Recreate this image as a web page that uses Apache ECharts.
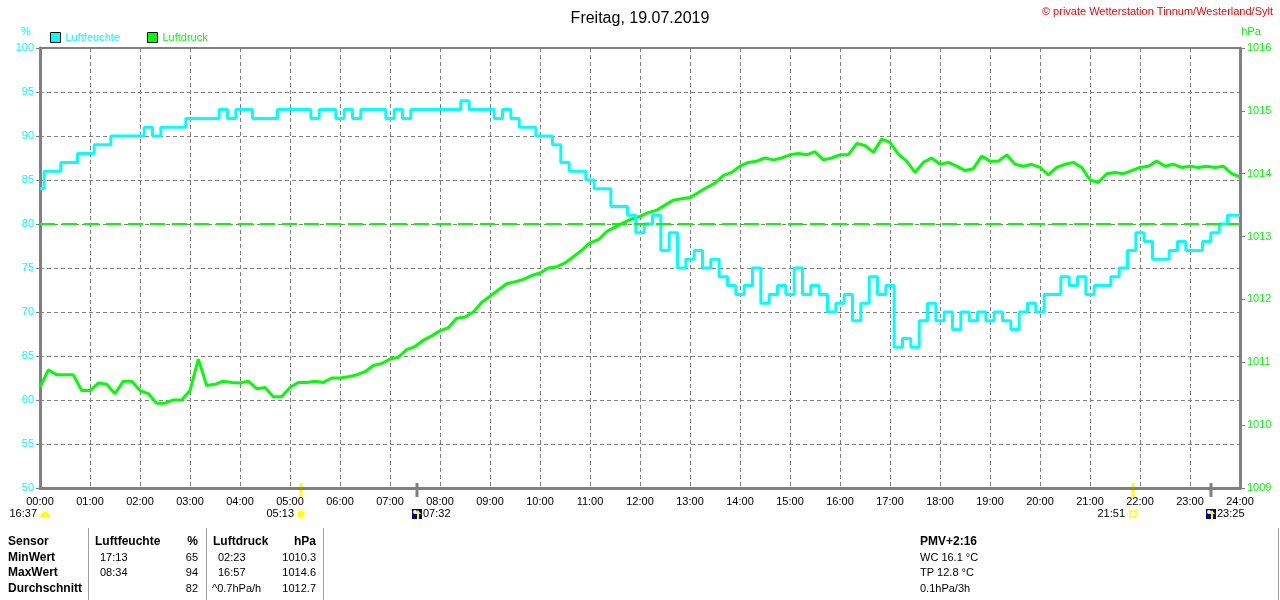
<!DOCTYPE html>
<html>
<head>
<meta charset="utf-8">
<script src="https://cdn.jsdelivr.net/npm/echarts@6/dist/echarts.min.js"></script>
<style>
html,body{margin:0;padding:0;background:#fff;}
#chart{width:1280px;height:600px;}
</style>
</head>
<body>
<div id="chart"></div>
<script>
// 10 minute readings, 00:00 .. 24:00
var times = [
  '00:00','00:10','00:20','00:30','00:40','00:50',
  '01:00','01:10','01:20','01:30','01:40','01:50',
  '02:00','02:10','02:20','02:30','02:40','02:50',
  '03:00','03:10','03:20','03:30','03:40','03:50',
  '04:00','04:10','04:20','04:30','04:40','04:50',
  '05:00','05:10','05:20','05:30','05:40','05:50',
  '06:00','06:10','06:20','06:30','06:40','06:50',
  '07:00','07:10','07:20','07:30','07:40','07:50',
  '08:00','08:10','08:20','08:30','08:40','08:50',
  '09:00','09:10','09:20','09:30','09:40','09:50',
  '10:00','10:10','10:20','10:30','10:40','10:50',
  '11:00','11:10','11:20','11:30','11:40','11:50',
  '12:00','12:10','12:20','12:30','12:40','12:50',
  '13:00','13:10','13:20','13:30','13:40','13:50',
  '14:00','14:10','14:20','14:30','14:40','14:50',
  '15:00','15:10','15:20','15:30','15:40','15:50',
  '16:00','16:10','16:20','16:30','16:40','16:50',
  '17:00','17:10','17:20','17:30','17:40','17:50',
  '18:00','18:10','18:20','18:30','18:40','18:50',
  '19:00','19:10','19:20','19:30','19:40','19:50',
  '20:00','20:10','20:20','20:30','20:40','20:50',
  '21:00','21:10','21:20','21:30','21:40','21:50',
  '22:00','22:10','22:20','22:30','22:40','22:50',
  '23:00','23:10','23:20','23:30','23:40','23:50',
  '24:00'
];

// Luftfeuchte in %
var humidity = [
  84,86,86,87,87,88,
  88,89,89,90,90,90,
  90,91,90,91,91,91,
  92,92,92,92,93,92,
  93,93,92,92,92,93,
  93,93,93,92,93,93,
  92,93,92,93,93,93,
  92,93,92,93,93,93,
  93,93,93,94,93,93,
  93,92,93,92,91,91,
  90,90,89,87,86,86,
  85,84,84,82,82,81,
  79,80,81,77,79,75,
  76,77,75,76,74,73,
  72,73,75,71,72,73,
  72,75,72,73,72,70,
  71,72,69,71,74,72,
  73,66,67,66,69,71,
  69,70,68,70,69,70,
  69,70,69,68,70,71,
  70,72,72,74,73,74,
  72,73,73,74,75,77,
  79,78,76,76,77,78,
  77,77,78,79,80,81,
  81
];

// Luftdruck in hPa
var pressure = [
  1010.6,1010.88,1010.8,1010.8,1010.8,1010.55,
  1010.55,1010.67,1010.65,1010.5,1010.7,1010.7,
  1010.55,1010.5,1010.35,1010.35,1010.4,1010.4,
  1010.55,1011.05,1010.63,1010.65,1010.7,1010.68,
  1010.67,1010.7,1010.58,1010.6,1010.45,1010.45,
  1010.6,1010.68,1010.68,1010.7,1010.68,1010.75,
  1010.75,1010.77,1010.8,1010.85,1010.95,1010.98,
  1011.05,1011.08,1011.2,1011.25,1011.35,1011.42,
  1011.5,1011.55,1011.7,1011.72,1011.8,1011.95,
  1012.05,1012.15,1012.25,1012.28,1012.32,1012.38,
  1012.42,1012.5,1012.52,1012.58,1012.68,1012.78,
  1012.9,1012.95,1013.08,1013.15,1013.22,1013.28,
  1013.32,1013.38,1013.42,1013.5,1013.58,1013.6,
  1013.62,1013.7,1013.78,1013.85,1013.97,1014.02,
  1014.12,1014.18,1014.2,1014.25,1014.22,1014.25,
  1014.3,1014.32,1014.3,1014.35,1014.22,1014.25,
  1014.3,1014.3,1014.48,1014.45,1014.34,1014.55,
  1014.5,1014.31,1014.2,1014.02,1014.18,1014.25,
  1014.15,1014.18,1014.12,1014.05,1014.08,1014.28,
  1014.2,1014.2,1014.3,1014.15,1014.12,1014.15,
  1014.1,1013.98,1014.1,1014.15,1014.18,1014.1,
  1013.9,1013.86,1014.0,1014.02,1014.0,1014.05,
  1014.1,1014.12,1014.2,1014.12,1014.15,1014.1,
  1014.12,1014.1,1014.12,1014.1,1014.12,1014.0,
  1013.95
];

var limitHumidity = 80;

// sun / moon times under the axis
var events = [
  {time: '05:13', kind: 'sunrise'},
  {time: '07:32', kind: 'moonrise'},
  {time: '21:51', kind: 'sunset'},
  {time: '23:25', kind: 'moonset'}
];
var dayLength = '16:37';

var tableHead = ['Sensor', 'Luftfeuchte', '%', 'Luftdruck', 'hPa'];
var tableRows = [
  ['MinWert', '17:13', '65', '02:23', '1010.3'],
  ['MaxWert', '08:34', '94', '16:57', '1014.6'],
  ['Durchschnitt', '', '82', '^0.7hPa/h', '1012.7']
];
var extraHead = 'PMV+2:16';
var extraRows = ['WC 16.1 °C', 'TP 12.8 °C', '0.1hPa/3h'];

var cyan = '#00ffff';
var green = '#00ff00';
var gray = '#808080';
var font = '"Liberation Sans", Arial, sans-serif';

var chart = echarts.init(document.getElementById('chart'));

chart.setOption({
  animation: false,
  backgroundColor: '#fff',
  title: {
    text: 'Freitag, 19.07.2019',
    left: 'center',
    top: 6,
    textStyle: {fontSize: 16, fontWeight: 'normal', color: '#000', fontFamily: font}
  },
  legend: {
    left: 50,
    top: 32,
    padding: 0,
    icon: 'rect',
    itemWidth: 10,
    itemHeight: 10,
    itemGap: 27,
    itemStyle: {borderColor: '#000', borderWidth: 1},
    textStyle: {fontSize: 11, fontFamily: font},
    data: [
      {name: 'Luftfeuchte', textStyle: {color: cyan}},
      {name: 'Luftdruck', textStyle: {color: green}}
    ]
  },
  grid: {
    left: 40, right: 40, top: 48, bottom: 112,
    show: true, borderColor: gray, borderWidth: 2
  },
  xAxis: [
    {
      type: 'category',
      data: times,
      boundaryGap: false,
      axisLine: {lineStyle: {color: gray, width: 3}},
      axisTick: {show: false},
      axisLabel: {interval: 5, color: '#000', fontSize: 11, fontFamily: font, margin: 8},
      splitLine: {show: true, interval: 5, lineStyle: {color: gray, type: [4, 3], width: 1}}
    },
    {type: 'value', min: 0, max: 1440, show: false}
  ],
  yAxis: [
    {
      type: 'value', min: 50, max: 100, interval: 5, position: 'left',
      axisLine: {show: true, lineStyle: {color: gray, width: 3}},
      axisTick: {show: true, length: 4, lineStyle: {color: gray}},
      axisLabel: {color: cyan, fontSize: 11, fontFamily: font, margin: 6},
      splitLine: {show: true, lineStyle: {color: gray, type: [4, 3], width: 1}}
    },
    {
      type: 'value', min: 1009, max: 1016, interval: 1, position: 'right',
      axisLine: {show: true, lineStyle: {color: gray, width: 3}},
      axisTick: {show: true, length: 5, lineStyle: {color: gray}},
      axisLabel: {
        color: green, fontSize: 11, fontFamily: font, margin: 7,
        formatter: function (v) { return String(v); }
      },
      splitLine: {show: false}
    }
  ],
  series: [
    {
      name: 'Luftdruck',
      type: 'line',
      yAxisIndex: 1,
      data: pressure,
      symbol: 'none',
      color: green,
      lineStyle: {width: 3, color: green},
      z: 3
    },
    {
      name: 'Luftfeuchte',
      type: 'line',
      step: 'middle',
      yAxisIndex: 0,
      data: humidity,
      symbol: 'none',
      color: cyan,
      lineStyle: {width: 3, color: cyan},
      z: 4,
      markLine: {
        silent: true,
        symbol: 'none',
        label: {show: false},
        lineStyle: {color: green, type: [15, 7], width: 2},
        data: [{yAxis: limitHumidity}]
      }
    }
  ]
});

function toMinutes(t) {
  var p = t.split(':');
  return parseInt(p[0], 10) * 60 + parseInt(p[1], 10);
}

function txt(str, x, y, opt) {
  opt = opt || {};
  return {
    type: 'text', x: x, y: y, silent: true,
    style: {
      text: str,
      fill: opt.fill || '#000',
      fontSize: opt.size || 11,
      fontWeight: opt.bold ? 'bold' : 'normal',
      fontFamily: font,
      align: opt.align || 'left',
      verticalAlign: 'middle'
    }
  };
}

var bottomY = chart.convertToPixel({yAxisIndex: 0}, 50);
var g = [];

// units and copyright
g.push(txt('%', 26, 32, {fill: cyan, align: 'center'}));
g.push(txt('hPa', 1251, 32, {fill: green, align: 'center'}));
g.push(txt('\u00a9 private Wetterstation Tinnum/Westerland/Sylt', 1273, 12, {fill: '#ff0000', align: 'right'}));

// day length at the start of the axis
g.push(txt(dayLength, 37, 514, {align: 'right'}));
g.push({type: 'sector', silent: true,
  shape: {cx: 45, cy: 517, r0: 0, r: 5, startAngle: Math.PI, endAngle: 2 * Math.PI},
  style: {fill: '#ffff00'}});

events.forEach(function (ev) {
  var x = Math.round(chart.convertToPixel({xAxisIndex: 1}, toMinutes(ev.time)));
  var sun = ev.kind === 'sunrise' || ev.kind === 'sunset';
  g.push({type: 'line', silent: true,
    shape: {x1: x, y1: bottomY - 5, x2: x, y2: bottomY + 9},
    style: {stroke: sun ? '#ffff00' : gray, lineWidth: 3}});
  if (ev.kind === 'sunrise') {
    g.push({type: 'circle', silent: true, shape: {cx: x, cy: 514, r: 5}, style: {fill: '#ffffa0'}});
    g.push({type: 'circle', silent: true, shape: {cx: x, cy: 514, r: 3}, style: {fill: '#ffff00'}});
    g.push(txt(ev.time, x - 7, 514, {align: 'right'}));
  } else if (ev.kind === 'sunset') {
    g.push({type: 'rect', silent: true, shape: {x: x - 3, y: 511, width: 6, height: 6},
      style: {fill: '#fff', stroke: '#ffff00', lineWidth: 1.5}});
    g.push(txt(ev.time, x - 8, 514, {align: 'right'}));
  } else {
    g.push({type: 'rect', silent: true, shape: {x: x - 5, y: 509, width: 10, height: 10}, style: {fill: '#000080'}});
    g.push({type: 'circle', silent: true, shape: {cx: x - 2, cy: 512, r: 2}, style: {fill: '#fff'}});
    g.push({type: 'polygon', silent: true,
      shape: {points: [[x + 1, 510], [x + 4, 514], [x + 2, 514], [x + 2, 519], [x, 519], [x, 514], [x - 2, 514]]},
      style: {fill: '#ffff00'}});
    g.push(txt(ev.time, x + 6, 514));
  }
});

// statistics table
var rowY = [542, 557.5, 573, 589];
[88, 206, 323].forEach(function (x) {
  g.push({type: 'line', silent: true, shape: {x1: x + 0.5, y1: 528, x2: x + 0.5, y2: 600},
    style: {stroke: '#a0a0a0', lineWidth: 1}});
});
g.push({type: 'line', silent: true, shape: {x1: 1278.5, y1: 528, x2: 1278.5, y2: 600},
  style: {stroke: '#a0a0a0', lineWidth: 1}});

g.push(txt(tableHead[0], 8, rowY[0], {bold: true, size: 12}));
g.push(txt(tableHead[1], 95, rowY[0], {bold: true, size: 12}));
g.push(txt(tableHead[2], 198, rowY[0], {bold: true, size: 12, align: 'right'}));
g.push(txt(tableHead[3], 213, rowY[0], {bold: true, size: 12}));
g.push(txt(tableHead[4], 316, rowY[0], {bold: true, size: 12, align: 'right'}));

tableRows.forEach(function (r, i) {
  var y = rowY[i + 1];
  g.push(txt(r[0], 8, y, {bold: true, size: 12}));
  g.push(txt(r[1], 100, y));
  g.push(txt(r[2], 198, y, {align: 'right'}));
  g.push(txt(r[3], r[3].charAt(0) === '^' ? 212 : 218, y));
  g.push(txt(r[4], 316, y, {align: 'right'}));
});

g.push(txt(extraHead, 920, rowY[0], {bold: true, size: 12}));
extraRows.forEach(function (s, i) {
  g.push(txt(s, 920, rowY[i + 1]));
});

chart.setOption({graphic: g});
</script>
</body>
</html>
